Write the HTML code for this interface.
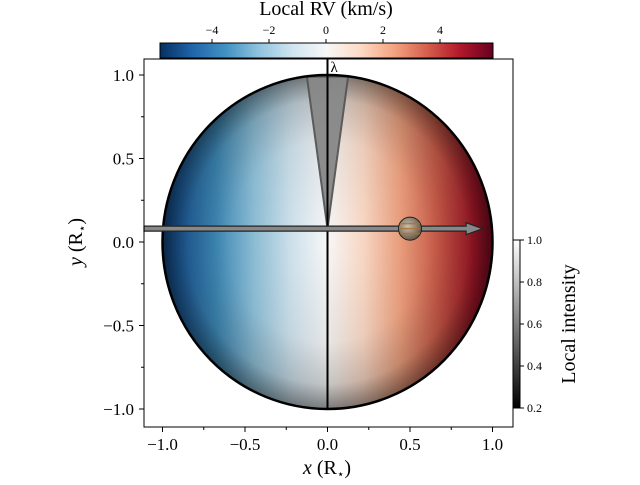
<!DOCTYPE html>
<html><head><meta charset="utf-8"><style>
body{margin:0;background:#fff}
svg text{font-family:"Liberation Serif",serif;fill:#000}
</style></head><body>
<svg id="c" width="640" height="480" viewBox="0 0 640 480" xmlns="http://www.w3.org/2000/svg">
<defs>
<linearGradient id="rdbu" x1="0" x2="1" y1="0" y2="0">
<stop offset="0" stop-color="#053061"/><stop offset="0.1" stop-color="#2166ac"/><stop offset="0.2" stop-color="#4393c3"/><stop offset="0.3" stop-color="#92c5de"/><stop offset="0.4" stop-color="#d1e5f0"/><stop offset="0.5" stop-color="#f7f7f7"/><stop offset="0.6" stop-color="#fddbc7"/><stop offset="0.7" stop-color="#f4a582"/><stop offset="0.8" stop-color="#d6604d"/><stop offset="0.9" stop-color="#b2182b"/><stop offset="1" stop-color="#67001f"/>
</linearGradient>
<linearGradient id="diskg" gradientUnits="userSpaceOnUse" x1="143" x2="511" y1="0" y2="0">
<stop offset="0" stop-color="#053061"/><stop offset="0.1" stop-color="#2166ac"/><stop offset="0.2" stop-color="#4393c3"/><stop offset="0.3" stop-color="#92c5de"/><stop offset="0.4" stop-color="#d1e5f0"/><stop offset="0.5" stop-color="#f7f7f7"/><stop offset="0.6" stop-color="#fddbc7"/><stop offset="0.7" stop-color="#f4a582"/><stop offset="0.8" stop-color="#d6604d"/><stop offset="0.9" stop-color="#b2182b"/><stop offset="1" stop-color="#67001f"/>
</linearGradient>
<radialGradient id="limb" cx="0.5" cy="0.5" r="0.5">
<stop offset="0" stop-color="#000" stop-opacity="0"/><stop offset="0.6" stop-color="#000" stop-opacity="0.07"/><stop offset="0.85" stop-color="#000" stop-opacity="0.2"/><stop offset="1" stop-color="#000" stop-opacity="0.5"/>
</radialGradient>
<linearGradient id="gray" x1="0" x2="0" y1="1" y2="0">
<stop offset="0" stop-color="#000"/><stop offset="1" stop-color="#fff"/>
</linearGradient>
<radialGradient id="planet" cx="0.4" cy="0.4" r="0.6">
<stop offset="0" stop-color="#c8c0b0"/><stop offset="1" stop-color="#6a5a48"/>
</radialGradient>
</defs>
<g id="plot"></g>
</svg>
<script>
const xTicks=[-1.0,-0.5,0.0,0.5,1.0];
const yTicks=[-1.0,-0.5,0.0,0.5,1.0];
const rvTicks=[-4,-2,0,2,4];
const intTicks=[0.2,0.4,0.6,0.8,1.0];
const starRadius=[1.0];
const planetPos=[0.5,0.08];
const planetR=[0.07];
const lambdaHalfWidth=[0.125];
const NS="http://www.w3.org/2000/svg";
const X=v=>327.5+165*v, Y=v=>242-167*v;
const RV=v=>326+28.5*v, IN=v=>408-210*(v-0.2);
const g=document.getElementById('plot');
function el(t,a,p){const e=document.createElementNS(NS,t);for(const k in a)e.setAttribute(k,a[k]);(p||g).appendChild(e);return e;}
function txt(s,a){const e=el('text',a);e.textContent=s;return e;}
const fr=el('rect',{x:144,y:59,width:369,height:368,fill:'#fff',stroke:'none'});


const R=starRadius[0];
const d=el('ellipse',{cx:X(0),cy:Y(0),rx:165*R,ry:167*R,fill:'url(#diskg)'});


el('ellipse',{cx:X(0),cy:Y(0),rx:165*R,ry:167*R,fill:'url(#limb)'});
const w=lambdaHalfWidth[0];
const wd=el('polygon',{points:`${X(0)},${Y(planetPos[1])} ${X(-w)},${Y(0.99)} ${X(w)},${Y(0.99)}`,fill:'#888',stroke:'#555','stroke-width':2,opacity:0.95});


el('ellipse',{cx:X(0),cy:Y(0),rx:165*R,ry:167*R,fill:'none',stroke:'#000','stroke-width':2.5});
const vl=el('line',{x1:X(0),x2:X(0),y1:59,y2:Y(-1),stroke:'#000','stroke-width':2});


const lam=txt('λ',{x:X(0)+3,y:72,'font-size':15});


const ay=Y(planetPos[1]);
const ar=el('polygon',{points:`144,${ay-2.5} ${X(0.84)},${ay-2.5} ${X(0.84)},${ay-6} ${X(0.94)},${ay} ${X(0.84)},${ay+6} ${X(0.84)},${ay+2.5} 144,${ay+2.5}`,fill:'#888',stroke:'#222','stroke-width':1.2});


const pl=el('circle',{cx:X(planetPos[0]),cy:ay,r:165*planetR[0],fill:'url(#planet)',stroke:'#222','stroke-width':1});


[-5,0,5].forEach(o=>el('line',{x1:X(planetPos[0])-10,x2:X(planetPos[0])+10,y1:ay+o,y2:ay+o,stroke:'#b07030','stroke-width':1.5,opacity:0.8}));
el('rect',{x:144,y:59,width:369,height:368,fill:'none',stroke:'#000','stroke-width':1});
xTicks.forEach(v=>{el('line',{x1:X(v),x2:X(v),y1:427,y2:432,stroke:'#000'});
const t=txt(v<0?'−'+Math.abs(v).toFixed(1):v.toFixed(1),{x:X(v),y:450,'font-size':17,'text-anchor':'middle'});

});
for(let v=-1;v<=1.01;v+=0.25)el('line',{x1:X(v),x2:X(v),y1:427,y2:430,stroke:'#000'});
yTicks.forEach(v=>{el('line',{x1:139,x2:144,y1:Y(v),y2:Y(v),stroke:'#000'});
const t=txt(v<0?'−'+Math.abs(v).toFixed(1):v.toFixed(1),{x:134,y:Y(v)+6,'font-size':17,'text-anchor':'end'});

});
for(let v=-1;v<=1.01;v+=0.25)el('line',{x1:141,x2:144,y1:Y(v),y2:Y(v),stroke:'#000'});
const xt=txt('',{x:327,y:474,'font-size':20,'text-anchor':'middle'});xt.innerHTML='<tspan font-style="italic">x</tspan> (R<tspan font-size="12" dy="4">⋆</tspan><tspan dy="-4">)</tspan>';


const yt=txt('',{x:0,y:0,'font-size':20,'text-anchor':'middle',transform:'translate(82,242) rotate(-90)'});yt.innerHTML='<tspan font-style="italic">y</tspan> (R<tspan font-size="12" dy="4">⋆</tspan><tspan dy="-4">)</tspan>';


const cb=el('rect',{x:160,y:43,width:333,height:15,fill:'url(#rdbu)',stroke:'#000','stroke-width':1});


rvTicks.forEach(v=>{el('line',{x1:RV(v),x2:RV(v),y1:39,y2:43,stroke:'#000'});
const t=txt(v<0?'−'+Math.abs(v):String(v),{x:RV(v),y:34,'font-size':12,'text-anchor':'middle'});

});
const ct=txt('Local RV (km/s)',{x:326,y:15,'font-size':20,'text-anchor':'middle'});


const cb2=el('rect',{x:513,y:240,width:7,height:168,fill:'url(#gray)',stroke:'#000','stroke-width':1});


intTicks.forEach(v=>{el('line',{x1:520,x2:524,y1:IN(v),y2:IN(v),stroke:'#000'});
const t=txt(v.toFixed(1),{x:527,y:IN(v)+4,'font-size':12});

});
const it=txt('Local intensity',{x:0,y:0,'font-size':20,'text-anchor':'middle',transform:'translate(575,324) rotate(-90)'});


</script>
</body></html>
